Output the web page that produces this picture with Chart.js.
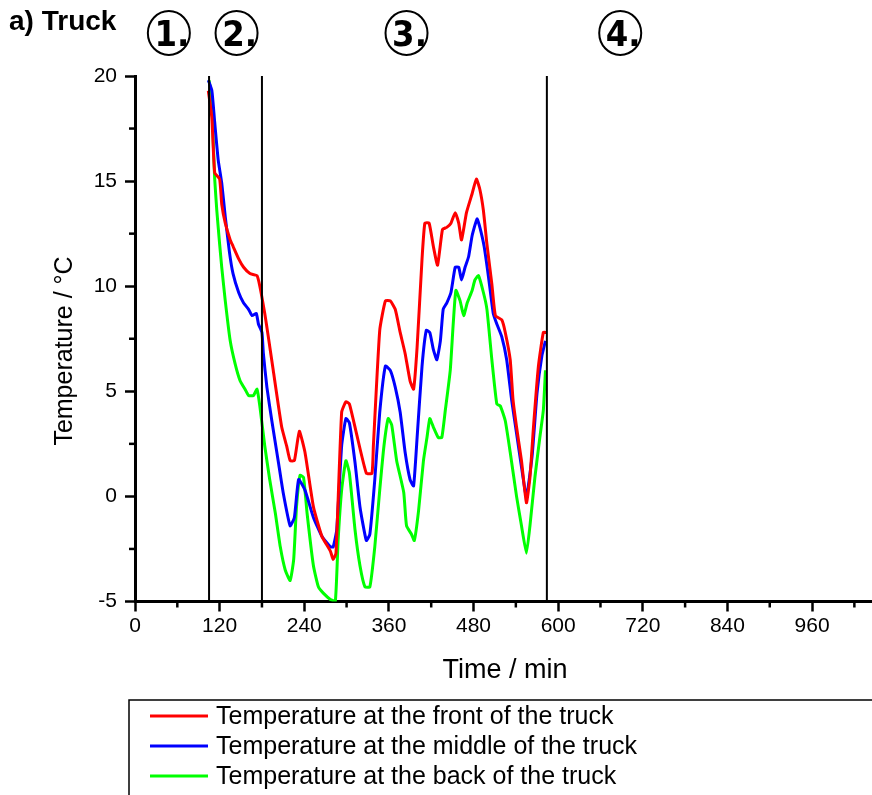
<!DOCTYPE html>
<html>
<head>
<meta charset="utf-8">
<script src="https://cdn.jsdelivr.net/npm/chart.js@4.4.0/dist/chart.umd.min.js"></script>
<style>
  html, body { margin: 0; padding: 0; background: #fff; }
  canvas { display: block; }
</style>
</head>
<body>
<canvas id="myChart" width="872" height="795"></canvas>
<script>
// time in minutes, temperature in degC
let frontTime = [104, 109, 113, 120, 123, 128, 135, 139, 147, 154, 163, 173, 177, 184, 189, 196, 208, 215, 220, 226,
    233, 241, 253, 265, 277, 281, 285, 293, 299, 304, 314, 328, 336, 338, 347, 355, 362, 369, 376, 383,
    390, 395, 400, 407, 411, 417, 423, 429, 436, 442, 448, 454, 459, 463, 470, 478, 484, 489, 494, 499,
    506, 511, 520, 525, 532, 536, 541, 548, 555, 560, 565, 572, 579, 583];
let frontTemp = [19.3, 18.0, 15.4, 15.1, 13.9, 13.0, 12.2, 11.9, 11.3, 10.9, 10.6, 10.5, 10.0, 8.7, 7.6, 6.0, 3.3, 2.4, 1.7, 1.7,
    3.1, 2.1, -0.5, -1.9, -2.6, -3.0, -2.7, 4.0, 4.5, 4.4, 3.0, 1.1, 1.1, 2.4, 7.9, 9.3, 9.3, 8.9, 7.8, 6.8,
    5.5, 5.1, 7.1, 11.3, 13.0, 13.0, 11.9, 11.0, 12.7, 12.8, 13.0, 13.5, 13.0, 12.2, 13.5, 14.4, 15.1, 14.6, 13.6, 12.0,
    10.1, 8.6, 8.4, 7.8, 6.5, 4.6, 3.3, 1.7, -0.3, 0.9, 3.3, 6.2, 7.8, 7.8];

let middleTime = [104, 109, 113, 118, 123, 128, 134, 139, 147, 154, 161, 166, 172, 175, 180, 182, 187, 194, 203, 210,
    220, 226, 232, 241, 253, 265, 277, 281, 286, 293, 299, 304, 312, 319, 328, 333, 340, 347, 355, 362,
    369, 376, 383, 390, 395, 400, 407, 413, 418, 423, 428, 433, 437, 442, 448, 454, 459, 463, 468, 473,
    478, 485, 489, 495, 501, 508, 513, 520, 527, 534, 541, 548, 555, 563, 570, 577, 582];
let middleTemp = [19.8, 19.3, 17.8, 16.0, 14.9, 13.3, 11.6, 10.6, 9.7, 9.2, 8.9, 8.6, 8.7, 8.2, 7.8, 6.8, 5.2, 3.6, 1.7, 0.2,
    -1.4, -1.0, 0.8, 0.3, -1.0, -1.9, -2.4, -2.4, -1.6, 2.4, 3.7, 3.5, 1.6, -0.5, -2.1, -1.8, 0.8, 4.0, 6.2, 6.0,
    5.2, 4.0, 2.1, 0.8, 0.5, 2.8, 6.2, 7.9, 7.8, 7.0, 6.5, 7.4, 8.9, 9.2, 9.7, 10.9, 10.9, 10.3, 10.9, 11.4,
    12.4, 13.2, 12.8, 11.9, 10.5, 8.7, 8.2, 7.6, 6.5, 4.6, 3.0, 1.4, 0.0, 1.9, 4.9, 6.7, 7.4];

let backTime = [105, 109, 111, 113, 116, 120, 123, 128, 135, 142, 149, 156, 161, 168, 173, 177, 184, 191, 199, 206,
    213, 220, 225, 229, 234, 239, 244, 253, 260, 267, 277, 284, 288, 293, 299, 304, 312, 319, 326, 333,
    340, 347, 353, 359, 364, 371, 381, 385, 392, 396, 402, 409, 414, 418, 423, 430, 435, 440, 447, 451,
    455, 461, 466, 471, 478, 482, 487, 494, 499, 506, 513, 518, 525, 532, 541, 548, 555, 560, 567, 574,
    579, 582];
let backTemp = [19.8, 18.9, 16.8, 15.1, 13.6, 12.0, 10.9, 9.3, 7.4, 6.3, 5.5, 5.1, 4.8, 4.8, 5.1, 4.3, 2.4, 0.8, -0.8, -2.4,
    -3.5, -4.0, -3.0, -0.5, 1.0, 0.9, -0.8, -3.3, -4.3, -4.6, -4.9, -5.0, -2.1, 0.3, 1.7, 1.1, -1.6, -3.3, -4.3, -4.3,
    -2.4, 0.3, 2.4, 3.7, 3.4, 1.7, 0.2, -1.4, -1.8, -2.1, -0.7, 1.7, 2.8, 3.7, 3.3, 2.8, 2.8, 4.1, 6.0, 8.1,
    9.8, 9.3, 8.6, 9.2, 9.8, 10.3, 10.5, 9.7, 8.9, 6.5, 4.4, 4.3, 3.6, 2.1, 0.0, -1.4, -2.7, -1.4, 0.9, 2.8,
    4.1, 6.0];

let seriesLabels = [
    "Temperature at the front of the truck",
    "Temperature at the middle of the truck",
    "Temperature at the back of the truck"
];

let xTickLabels = [0, 120, 240, 360, 480, 600, 720, 840, 960];
let xMinorTicks = [60, 180, 300, 420, 540, 660, 780, 900, 1020];
let yTickLabels = [-5, 0, 5, 10, 15, 20];
let yMinorTicks = [-2.5, 2.5, 7.5, 12.5, 17.5];

// phase boundaries (min) and the circled phase numbers
let phaseBoundaries = [105, 180, 584];
let phaseNames = ["1.", "2.", "3.", "4."];
let phaseNameTimes = [48, 144, 385, 688];

const FONT = '"Liberation Sans", Arial, sans-serif';

function toPoints(times, temps) {
    return times.map(function(t, i) { return {x: t, y: temps[i]}; });
}

// draws the phase lines, minor ticks, titles and the boxed legend
const overlayPlugin = {
    id: 'overlay',
    afterDatasetsDraw(chart) {
        const {ctx, chartArea, scales} = chart;
        ctx.save();
        ctx.strokeStyle = '#000';
        ctx.lineWidth = 2;
        phaseBoundaries.forEach(function(t) {
            let px = scales.x.getPixelForValue(t);
            ctx.beginPath();
            ctx.moveTo(px, scales.y.getPixelForValue(20));
            ctx.lineTo(px, chartArea.bottom);
            ctx.stroke();
        });
        ctx.restore();
    },
    afterDraw(chart) {
        const {ctx, chartArea, scales} = chart;
        ctx.save();
        ctx.strokeStyle = '#000';
        ctx.lineWidth = 2.5;
        xMinorTicks.forEach(function(v) {
            let px = scales.x.getPixelForValue(v);
            ctx.beginPath();
            ctx.moveTo(px, chartArea.bottom);
            ctx.lineTo(px, chartArea.bottom + 6);
            ctx.stroke();
        });
        yMinorTicks.forEach(function(v) {
            let py = scales.y.getPixelForValue(v);
            ctx.beginPath();
            ctx.moveTo(chartArea.left - 6, py);
            ctx.lineTo(chartArea.left, py);
            ctx.stroke();
        });

        // axis titles
        ctx.fillStyle = '#000';
        ctx.font = '27px ' + FONT;
        ctx.textAlign = 'center';
        ctx.textBaseline = 'alphabetic';
        ctx.fillText('Time / min', 505, 678);
        ctx.save();
        ctx.translate(65, 351);
        ctx.rotate(-Math.PI / 2);
        ctx.textBaseline = 'middle';
        ctx.font = '25px ' + FONT;
        ctx.fillText('Temperature / °C', 0, 0);
        ctx.restore();

        // panel title
        ctx.textAlign = 'left';
        ctx.font = 'bold 28px ' + FONT;
        ctx.fillText('a) Truck', 9, 30);

        // circled phase numbers
        ctx.lineWidth = 2;
        phaseNames.forEach(function(name, i) {
            let cx = scales.x.getPixelForValue(phaseNameTimes[i]);
            ctx.beginPath();
            ctx.ellipse(cx, 33, 21, 22, 0, 0, Math.PI * 2);
            ctx.stroke();
            ctx.font = 'bold 36px "Liberation Sans Narrow", "DejaVu Sans Condensed", ' + FONT;
            ctx.textAlign = 'center';
            ctx.textBaseline = 'alphabetic';
            ctx.fillText(name, cx + 3, 46);
        });

        // legend box
        ctx.lineWidth = 1.5;
        ctx.strokeRect(129, 700, 760, 120);
        ctx.font = '25px ' + FONT;
        ctx.textAlign = 'left';
        ctx.textBaseline = 'middle';
        chart.data.datasets.forEach(function(ds, i) {
            let ly = 716 + i * 30;
            ctx.strokeStyle = ds.borderColor;
            ctx.lineWidth = 3;
            ctx.beginPath();
            ctx.moveTo(150, ly);
            ctx.lineTo(208, ly);
            ctx.stroke();
            ctx.fillStyle = '#000';
            ctx.fillText(ds.label, 216, ly + 1);
        });
        ctx.restore();
    }
};

var ctx = document.getElementById('myChart').getContext('2d');
var chart = new Chart(ctx, {
    type: 'line',
    data: {
        datasets: [{
            label: seriesLabels[0],
            data: toPoints(frontTime, frontTemp),
            borderColor: '#ff0000'
        }, {
            label: seriesLabels[1],
            data: toPoints(middleTime, middleTemp),
            borderColor: '#0000ff'
        }, {
            label: seriesLabels[2],
            data: toPoints(backTime, backTemp),
            borderColor: '#00ff00'
        }]
    },
    options: {
        responsive: false,
        animation: false,
        events: [],
        elements: {
            line: { borderWidth: 3, tension: 0.15, fill: false },
            point: { radius: 0 }
        },
        layout: { padding: { top: 76, right: 0, bottom: 115, left: 0 } },
        plugins: {
            legend: { display: false },
            tooltip: { enabled: false }
        },
        scales: {
            x: {
                type: 'linear',
                min: 0,
                max: 1045,
                afterBuildTicks: function(scale) {
                    scale.ticks = xTickLabels.map(function(v) { return {value: v}; });
                },
                afterFit: function(scale) { scale.height = 78.5; },
                ticks: {
                    autoSkip: false,
                    maxRotation: 0,
                    padding: 2,
                    color: '#000',
                    font: { family: FONT, size: 21 },
                    callback: function(v) { return String(v); }
                },
                grid: {
                    drawOnChartArea: false,
                    tickLength: 10,
                    tickWidth: 2.5,
                    tickColor: '#000'
                },
                border: { display: true, color: '#000', width: 3 }
            },
            y: {
                min: -5,
                max: 20,
                afterBuildTicks: function(scale) {
                    scale.ticks = yTickLabels.map(function(v) { return {value: v}; });
                },
                afterFit: function(scale) { scale.width = 135; },
                ticks: {
                    padding: 8,
                    color: '#000',
                    font: { family: FONT, size: 21 },
                    callback: function(v) { return String(v); }
                },
                grid: {
                    drawOnChartArea: false,
                    tickLength: 10,
                    tickWidth: 2.5,
                    tickColor: '#000'
                },
                border: { display: true, color: '#000', width: 3 }
            }
        }
    },
    plugins: [overlayPlugin]
});
</script>
</body>
</html>
